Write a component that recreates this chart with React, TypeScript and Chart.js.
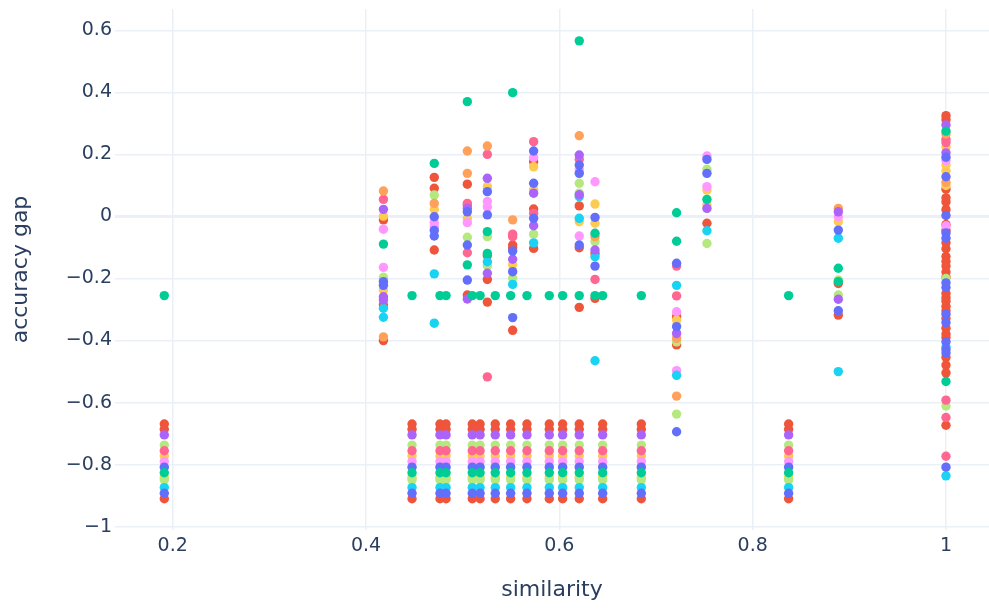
import React, { useEffect, useRef } from 'react';
import { Chart, registerables } from 'chart.js';
Chart.register(...registerables);

// ---- axis ticks ----
const xTicks = [0.2, 0.4, 0.6, 0.8, 1];
const yTicks = [-1, -0.8, -0.6, -0.4, -0.2, 0, 0.2, 0.4, 0.6];
const xTitle = 'similarity';
const yTitle = 'accuracy gap';

// ---- similarity positions of the repeated low clusters ----
const clusterX = [0.1913, 0.4476, 0.4765, 0.4828, 0.5099, 0.518, 0.5337, 0.5496, 0.5665, 0.5896, 0.6034, 0.6206, 0.6448, 0.6848, 0.8372];

// ---- green row at -0.255 ----
const greenRowX = [0.1913, 0.4476, 0.4765, 0.4828, 0.5099, 0.518, 0.5337, 0.5496, 0.5665, 0.5896, 0.6034, 0.6206, 0.6369, 0.6448, 0.6848, 0.8372];
const greenRowY = -0.255;

// ---- cluster values per colour ----
const clusterBlue = [-0.808, -0.892];
const clusterRed = [-0.669, -0.686, -0.91];
const clusterGreen = [-0.826];
const clusterPurple = [-0.704];
const clusterOrange: number[] = [];
const clusterCyan = [-0.874];
const clusterPink = [-0.755];
const clusterLightGreen = [-0.737, -0.849];
const clusterLightPink = [-0.79];
const clusterYellow = [-0.772, -0.841];

// ---- remaining points per colour: [similarity, accuracy gap] ----
const bluePts = [
  [0.418, -0.21], [0.418, -0.222],
  [0.4706, -0.001], [0.4706, -0.063], [0.4706, -0.045],
  [0.5048, 0.015], [0.5048, -0.092], [0.5048, -0.205],
  [0.5255, 0.08], [0.5255, 0.005],
  [0.5517, -0.111], [0.5517, -0.178], [0.5517, -0.326],
  [0.5734, 0.211], [0.5734, 0.107], [0.5734, -0.006],
  [0.6206, 0.166], [0.6206, 0.139], [0.6206, -0.092],
  [0.6369, -0.003], [0.6369, -0.16],
  [0.7213, -0.151], [0.7213, -0.355], [0.7213, -0.694],
  [0.7527, 0.184], [0.7527, 0.139],
  [0.8886, -0.044], [0.8886, -0.304],
  [1, 0.191], [1, 0.128], [1, 0.003], [1, -0.053], [1, -0.07], [1, -0.214], [1, -0.229],
  [1, -0.315], [1, -0.342], [1, -0.404], [1, -0.429], [1, -0.44], [1, -0.808],
];
const greenPts = [
  [0.418, -0.089],
  [0.4706, 0.171],
  [0.5048, 0.37], [0.5048, -0.156],
  [0.5255, -0.049], [0.5255, -0.119],
  [0.5517, 0.399],
  [0.6206, 0.566],
  [0.6369, -0.054],
  [0.7213, 0.012], [0.7213, -0.08],
  [0.7527, 0.055],
  [0.8886, -0.167], [0.8886, -0.21],
  [1, 0.275], [1, -0.532],
];
const purplePts = [
  [0.418, 0.023], [0.418, -0.259], [0.418, -0.269],
  [0.5048, 0.026], [0.5048, -0.266],
  [0.5255, 0.123], [0.5255, -0.183],
  [0.5517, -0.138],
  [0.5734, 0.075], [0.5734, -0.03],
  [0.6206, 0.198], [0.6206, 0.07],
  [0.6369, -0.108],
  [0.7213, -0.377],
  [0.7527, 0.026],
  [0.8886, 0.015], [0.8886, -0.267],
  [1, 0.295], [1, 0.205],
];
const orangePts = [
  [0.418, 0.082], [0.418, -0.388],
  [0.4706, 0.042],
  [0.5048, 0.211], [0.5048, 0.139],
  [0.5255, 0.227],
  [0.5517, -0.011],
  [0.6206, 0.26],
  [0.6369, -0.065],
  [0.7213, -0.393], [0.7213, -0.579],
  [0.8886, 0.026],
  [1, 0.266], [1, 0.11],
];
const cyanPts = [
  [0.418, -0.296], [0.418, -0.325],
  [0.4706, -0.185], [0.4706, -0.344],
  [0.5255, -0.146],
  [0.5517, -0.219],
  [0.5734, -0.085],
  [0.6206, 0.064], [0.6206, -0.006],
  [0.6369, -0.13], [0.6369, -0.465],
  [0.7213, -0.222], [0.7213, -0.512],
  [0.7527, -0.046],
  [0.8886, -0.07], [0.8886, -0.5],
  [1, -0.42], [1, -0.836],
];
const pinkPts = [
  [0.418, 0.055],
  [0.5048, 0.042], [0.5048, -0.117],
  [0.5255, 0.2], [0.5255, -0.517],
  [0.5517, -0.057], [0.5517, -0.065],
  [0.5734, 0.241], [0.5734, 0.01],
  [0.6206, 0.184],
  [0.6369, -0.203],
  [0.7213, -0.16], [0.7213, -0.256],
  [1, 0.249], [1, 0.238], [1, -0.592], [1, -0.648], [1, -0.773],
];
const lightGreenPts = [
  [0.418, -0.196],
  [0.4706, 0.069],
  [0.5048, -0.067],
  [0.5255, -0.065], [0.5255, -0.159],
  [0.5517, -0.199],
  [0.5734, -0.057],
  [0.6206, 0.107], [0.6206, 0.075],
  [0.6369, -0.081],
  [0.7213, -0.404], [0.7213, -0.637],
  [0.7527, 0.152], [0.7527, -0.087],
  [0.8886, -0.205], [0.8886, -0.253],
  [1, -0.2], [1, -0.611],
];
const lightPinkPts = [
  [0.418, -0.041], [0.418, -0.164],
  [0.4706, -0.02], [0.4706, -0.033],
  [0.5048, -0.02],
  [0.5255, 0.048], [0.5255, 0.031],
  [0.5734, 0.19],
  [0.6206, 0.15], [0.6206, -0.063],
  [0.6369, 0.112],
  [0.7213, -0.307], [0.7213, -0.497],
  [0.7527, 0.195], [0.7527, 0.096],
  [0.8886, -0.001],
  [1, 0.18], [1, -0.03],
];
const yellowPts = [
  [0.418, 0.001], [0.418, -0.237],
  [0.4706, 0.023],
  [0.5048, -0.006],
  [0.5255, 0.096],
  [0.5517, -0.156],
  [0.5734, 0.16], [0.5734, 0.087],
  [0.6206, -0.017],
  [0.6369, 0.04], [0.6369, -0.022],
  [0.7213, -0.334],
  [0.7527, 0.085], [0.7527, 0.037],
  [0.8886, -0.017],
  [1, 0.224], [1, 0.166], [1, 0.147], [1, 0.1],
];
const redPts = [
  [0.418, -0.011], [0.418, -0.285], [0.418, -0.4],
  [0.4706, 0.126], [0.4706, 0.091], [0.4706, -0.108],
  [0.5048, 0.104], [0.5048, 0.037], [0.5048, -0.253],
  [0.5255, -0.126], [0.5255, -0.203], [0.5255, -0.276],
  [0.5517, -0.092], [0.5517, -0.102], [0.5517, -0.367],
  [0.5734, 0.176], [0.5734, 0.024], [0.5734, -0.103],
  [0.6206, 0.034], [0.6206, -0.101], [0.6206, -0.293],
  [0.6369, -0.119], [0.6369, -0.264],
  [0.7213, -0.323], [0.7213, -0.414],
  [0.7527, -0.022],
  [0.8886, -0.216], [0.8886, -0.318],
  [1, 0.325], [1, 0.312], [1, 0.088], [1, 0.06], [1, 0.047], [1, 0.022], [1, -0.026], [1, -0.045],
  [1, -0.085], [1, -0.104], [1, -0.129], [1, -0.145], [1, -0.16], [1, -0.179], [1, -0.195],
  [1, -0.248], [1, -0.262], [1, -0.273], [1, -0.29], [1, -0.304], [1, -0.329], [1, -0.36],
  [1, -0.379], [1, -0.39], [1, -0.454], [1, -0.479], [1, -0.504], [1, -0.673],
];

const seriesDefs = [
  { name: 'green', color: '#00cc96', pts: greenPts, cluster: clusterGreen, row: true },
  { name: 'blue', color: '#636efa', pts: bluePts, cluster: clusterBlue },
  { name: 'purple', color: '#ab63fa', pts: purplePts, cluster: clusterPurple },
  { name: 'orange', color: '#FFA15A', pts: orangePts, cluster: clusterOrange },
  { name: 'cyan', color: '#19d3f3', pts: cyanPts, cluster: clusterCyan },
  { name: 'pink', color: '#FF6692', pts: pinkPts, cluster: clusterPink },
  { name: 'lightgreen', color: '#B6E880', pts: lightGreenPts, cluster: clusterLightGreen },
  { name: 'lightpink', color: '#FF97FF', pts: lightPinkPts, cluster: clusterLightPink },
  { name: 'yellow', color: '#FECB52', pts: yellowPts, cluster: clusterYellow },
  { name: 'red', color: '#EF553B', pts: redPts, cluster: clusterRed },
];

const FONT = 'DejaVu Sans';
const TEXT = '#2a3f5f';
const GRID = '#EBF0F8';

function fmt(v: number | string) {
  const n = Number(v);
  if (Math.abs(n) < 1e-9) return '0';
  const s = String(Math.round(n * 10) / 10);
  return s.replace('-', '\u2212');
}

export default function App() {
  const ref = useRef<HTMLCanvasElement>(null);
  useEffect(() => {
    const canvas = ref.current;
    if (!canvas) return;
    const datasets = seriesDefs.map((s: any) => {
      const data: { x: number; y: number }[] = [];
      s.pts.forEach((p: number[]) => data.push({ x: p[0], y: p[1] }));
      clusterX.forEach((x) => s.cluster.forEach((y: number) => data.push({ x, y })));
      if (s.row) greenRowX.forEach((x) => data.push({ x, y: greenRowY }));
      return {
        label: s.name,
        data,
        backgroundColor: s.color,
        borderColor: s.color,
        pointRadius: 4.7,
        pointBorderWidth: 0,
        pointHoverRadius: 4.7,
      };
    });
    const chart = new Chart(canvas, {
      type: 'scatter',
      data: { datasets },
      options: {
        responsive: false,
        animation: false,
        layout: { autoPadding: false, padding: { top: 9, right: 0, left: 0, bottom: 0 } },
        plugins: { legend: { display: false }, tooltip: { enabled: false } },
        scales: {
          x: {
            type: 'linear',
            min: 0.1403,
            max: 1.0445,
            border: { display: false },
            grid: { color: GRID, lineWidth: 1.5, drawTicks: false },
            ticks: {
              font: { family: FONT, size: 19 },
              color: TEXT,
              padding: 5,
              maxRotation: 0,
              autoSkip: false,
              callback: (v: any) => fmt(v),
            },
            afterBuildTicks: (s: any) => {
              s.ticks = xTicks.map((v) => ({ value: v }));
            },
            afterFit: (s: any) => {
              s.height = 79;
              s.paddingLeft = 0;
              s.paddingRight = 0;
            },
            title: {
              display: true,
              text: xTitle,
              color: TEXT,
              font: { family: FONT, size: 22 },
              padding: { top: 0, bottom: 6 },
            },
          },
          y: {
            type: 'linear',
            min: -1.0106,
            max: 0.6687,
            border: { display: false },
            grid: {
              color: GRID,
              lineWidth: (ctx: any) => (ctx.tick && Math.abs(ctx.tick.value) < 1e-9 ? 3 : 1.5),
              drawTicks: false,
            },
            ticks: {
              font: { family: FONT, size: 19 },
              color: TEXT,
              padding: 3,
              autoSkip: false,
              callback: (v: any) => fmt(v),
            },
            afterBuildTicks: (s: any) => {
              s.ticks = yTicks.map((v) => ({ value: v }));
            },
            afterFit: (s: any) => {
              s.width = 115;
              s.paddingTop = 0;
              s.paddingBottom = 0;
            },
            title: {
              display: true,
              text: yTitle,
              color: TEXT,
              font: { family: FONT, size: 22 },
              padding: { top: 8, bottom: 0 },
            },
          },
        },
      },
    });
    return () => chart.destroy();
  }, []);
  return (
    <div style={{ position: 'absolute', left: 0, top: 0, width: 989, height: 609, background: '#fff' }}>
      <canvas ref={ref} width={989} height={609} style={{ display: 'block' }} />
    </div>
  );
}
